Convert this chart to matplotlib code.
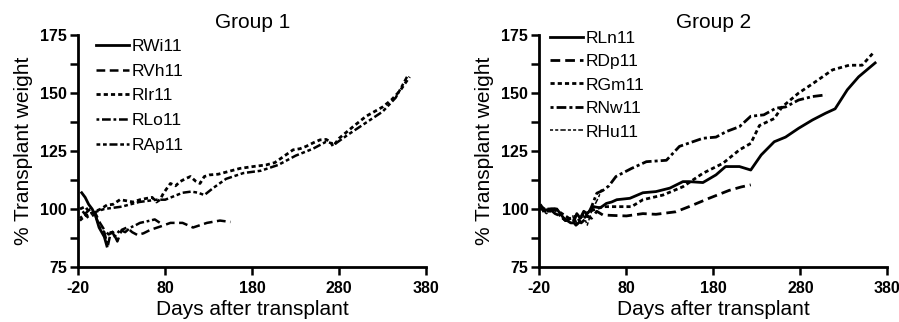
import matplotlib
matplotlib.use('Agg')
import matplotlib.pyplot as plt

plt.rcParams['font.family'] = ['Liberation Sans', 'DejaVu Sans']
plt.rcParams['axes.unicode_minus'] = False

# Group 1
rwi_d = [-16, -12, -8, -4, 0, 4, 7, 10, 13]
rwi_v = [107, 105, 102, 100, 97, 92, 90, 88, 84]

rvh_d = [-15, -8, 0, 5, 10, 15, 20, 25, 30, 36, 42, 48, 55, 63, 75, 86, 100, 112, 128, 143, 155]
rvh_v = [99, 96, 98, 94, 91, 89, 90, 86, 91, 92, 90, 88.8, 89.5, 91, 92.5, 94, 94, 92, 94, 95, 94.4]

rir_d = [-18, -12, -6, 0, 6, 13, 20, 28, 36, 43, 51, 59, 65, 70, 74, 78, 86, 92, 97, 103, 109, 115, 120, 125, 131,
         141, 151, 166, 181, 196, 206, 216, 227, 235, 242, 250, 258, 265, 270, 273, 280, 296, 311, 330, 340, 350, 361]
rir_v = [100, 101, 98, 99, 100, 101.7, 102, 104, 103.5, 103, 104, 104.6, 105, 103, 104, 106.8, 111, 110, 111.8, 113, 114,
         112, 111, 114, 114.7, 115, 116, 117.5, 118.3, 119, 120, 122.6, 125.5, 126, 127, 128.5, 129.8, 130, 129, 127,
         130.5, 135.5, 140, 144, 147, 151, 157]

rlo_d = [-18, -12, -6, 0, 5, 10, 14, 18, 22, 28, 34, 40, 46, 51, 57, 63, 68, 74]
rlo_v = [96, 98, 100, 97, 92, 90, 84, 91, 88, 91, 90, 92, 93, 94, 94.5, 95, 95.5, 94]

rap_d = [-18, -12, -5, 2, 10, 20, 30, 40, 50, 60, 70, 80, 90, 100, 110, 118, 125, 135, 150, 170, 190, 210, 230, 250,
         265, 275, 290, 310, 330, 345, 358]
rap_v = [95, 97, 98, 99, 100, 100.5, 101, 102, 103, 103.5, 104, 104, 105.5, 107, 107.5, 107, 106, 109, 113, 115.5,
         116.5, 119, 123, 126, 129, 128, 132, 137, 142, 148, 157]

# Group 2
rln_d = [-18, -12, -6, 0, 4, 8, 12, 16, 19, 23, 27, 31, 35, 42, 50, 57, 63, 69, 84, 99, 114, 130, 145, 152, 168, 183,
         194, 210, 223, 235, 250, 263, 278, 294, 309, 320, 334, 347, 366]
rln_v = [100, 99.6, 100, 100, 98, 96, 95, 94, 94, 98, 96, 99, 98, 101, 100.5, 102.4, 103, 104, 104.6, 107, 107.5, 109,
         111.8, 111.8, 111.4, 114.7, 118.3, 118.3, 116.8, 123.3, 129, 131, 134.8, 138.4, 141.3, 143.2, 151.4, 157, 163]

rdp_d = [-19, -14, -8, -2, 4, 10, 16, 22, 28, 34, 40, 46, 53, 65, 80, 99, 114, 137, 152, 175, 198, 212, 223]
rdp_v = [102, 99, 100, 98, 97, 95, 96, 93, 95, 97, 96, 99, 97.4, 97.2, 97, 98, 97.7, 98.8, 101, 104.6, 108, 109.5, 110.4]

rgm_d = [-18, -10, -2, 6, 14, 22, 30, 38, 45, 53, 68, 86, 99, 122, 145, 168, 191, 210, 223, 233, 250, 259, 278, 294,
         317, 336, 351, 363]
rgm_v = [101, 99, 100, 98, 96, 95, 97, 99, 100, 101, 101, 101, 104, 106, 109.6, 115.4, 119.7, 125.5, 128.3, 136, 139,
         144, 150, 154, 160, 162, 162, 167]

rnw_d = [-17, -10, -3, 4, 10, 16, 22, 28, 34, 40, 46, 53, 60, 68, 86, 103, 126, 141, 168, 183, 195, 210, 223, 238,
         252, 263, 278, 294, 309]
rnw_v = [99, 100, 100, 97, 95, 96, 97, 94, 96, 101, 106.8, 108, 110, 114, 117.5, 120.4, 121, 127, 130.5, 131, 133.4,
         135.5, 140, 140.6, 143.5, 144, 147, 148.5, 149.2]

rhu_d = [-18, -12, -6, 0, 6, 12, 18, 24, 30, 35, 40, 44, 48, 52]
rhu_v = [100, 98, 99, 100, 97, 95, 97, 93, 98, 93, 99, 102, 105, 109]

groups = [
    ('Group 1', [
        ('RWi11', rwi_d, rwi_v, '-', 2.0),
        ('RVh11', rvh_d, rvh_v, (0, (3.5, 1.8)), 1.8),
        ('RIr11', rir_d, rir_v, (0, (1.5, 1.1)), 2.0),
        ('RLo11', rlo_d, rlo_v, (0, (1.1, 1.1, 3.5, 1.1)), 1.8),
        ('RAp11', rap_d, rap_v, (0, (1.5, 1.1, 1.5, 1.1, 3.2, 1.1)), 1.8),
    ]),
    ('Group 2', [
        ('RLn11', rln_d, rln_v, '-', 2.0),
        ('RDp11', rdp_d, rdp_v, (0, (3.5, 1.8)), 2.0),
        ('RGm11', rgm_d, rgm_v, (0, (1.5, 1.1)), 2.0),
        ('RNw11', rnw_d, rnw_v, (0, (1.1, 1.1, 3.5, 1.1)), 2.0),
        ('RHu11', rhu_d, rhu_v, (0, (2, 1.4, 2, 1.4, 3.5, 1.4)), 1.1),
    ]),
]

fig = plt.figure(figsize=(8.99, 3.22), dpi=100)
lefts = [0.087, 0.600]
leg_anchor = [(0.02, 1.03), (0.0, 1.065)]
leg_space = [0.56, 0.48]
for (title, series), left, anchor, spc in zip(groups, lefts, leg_anchor, leg_space):
    ax = fig.add_axes([left, 0.171, 0.387, 0.72])
    for name, d, v, ls, lw in series:
        ax.plot(d, v, color='black', linestyle=ls, linewidth=lw, label=name)
    ax.set_xlim(-20, 380)
    ax.set_ylim(75, 175)
    ax.set_xticks([-20, 80, 180, 280, 380])
    ax.set_yticks([75, 100, 125, 150, 175])
    ax.set_yticks([87.5, 112.5, 137.5, 162.5], minor=True)
    for lab in ax.get_xticklabels() + ax.get_yticklabels():
        lab.set_fontweight('bold')
    ax.tick_params(axis='both', which='major', labelsize=11.5, width=1.8, length=6, direction='out', pad=2)
    ax.tick_params(axis='x', which='major', pad=4)
    ax.tick_params(axis='y', which='minor', width=1.8, length=6, direction='out')
    ax.spines['top'].set_visible(False)
    ax.spines['right'].set_visible(False)
    ax.spines['left'].set_linewidth(2.0)
    ax.spines['bottom'].set_linewidth(2.0)
    ax.set_title(title, fontsize=15, pad=5)
    ax.set_xlabel('Days after transplant', fontsize=15, labelpad=3)
    ax.set_ylabel('% Transplant weight', fontsize=15, labelpad=5)
    ax.legend(loc='upper left', bbox_to_anchor=anchor, frameon=False, fontsize=12.5,
              handlelength=1.9, handletextpad=0.15, labelspacing=spc, borderaxespad=0.2)

fig.savefig('out.png', dpi=100)
